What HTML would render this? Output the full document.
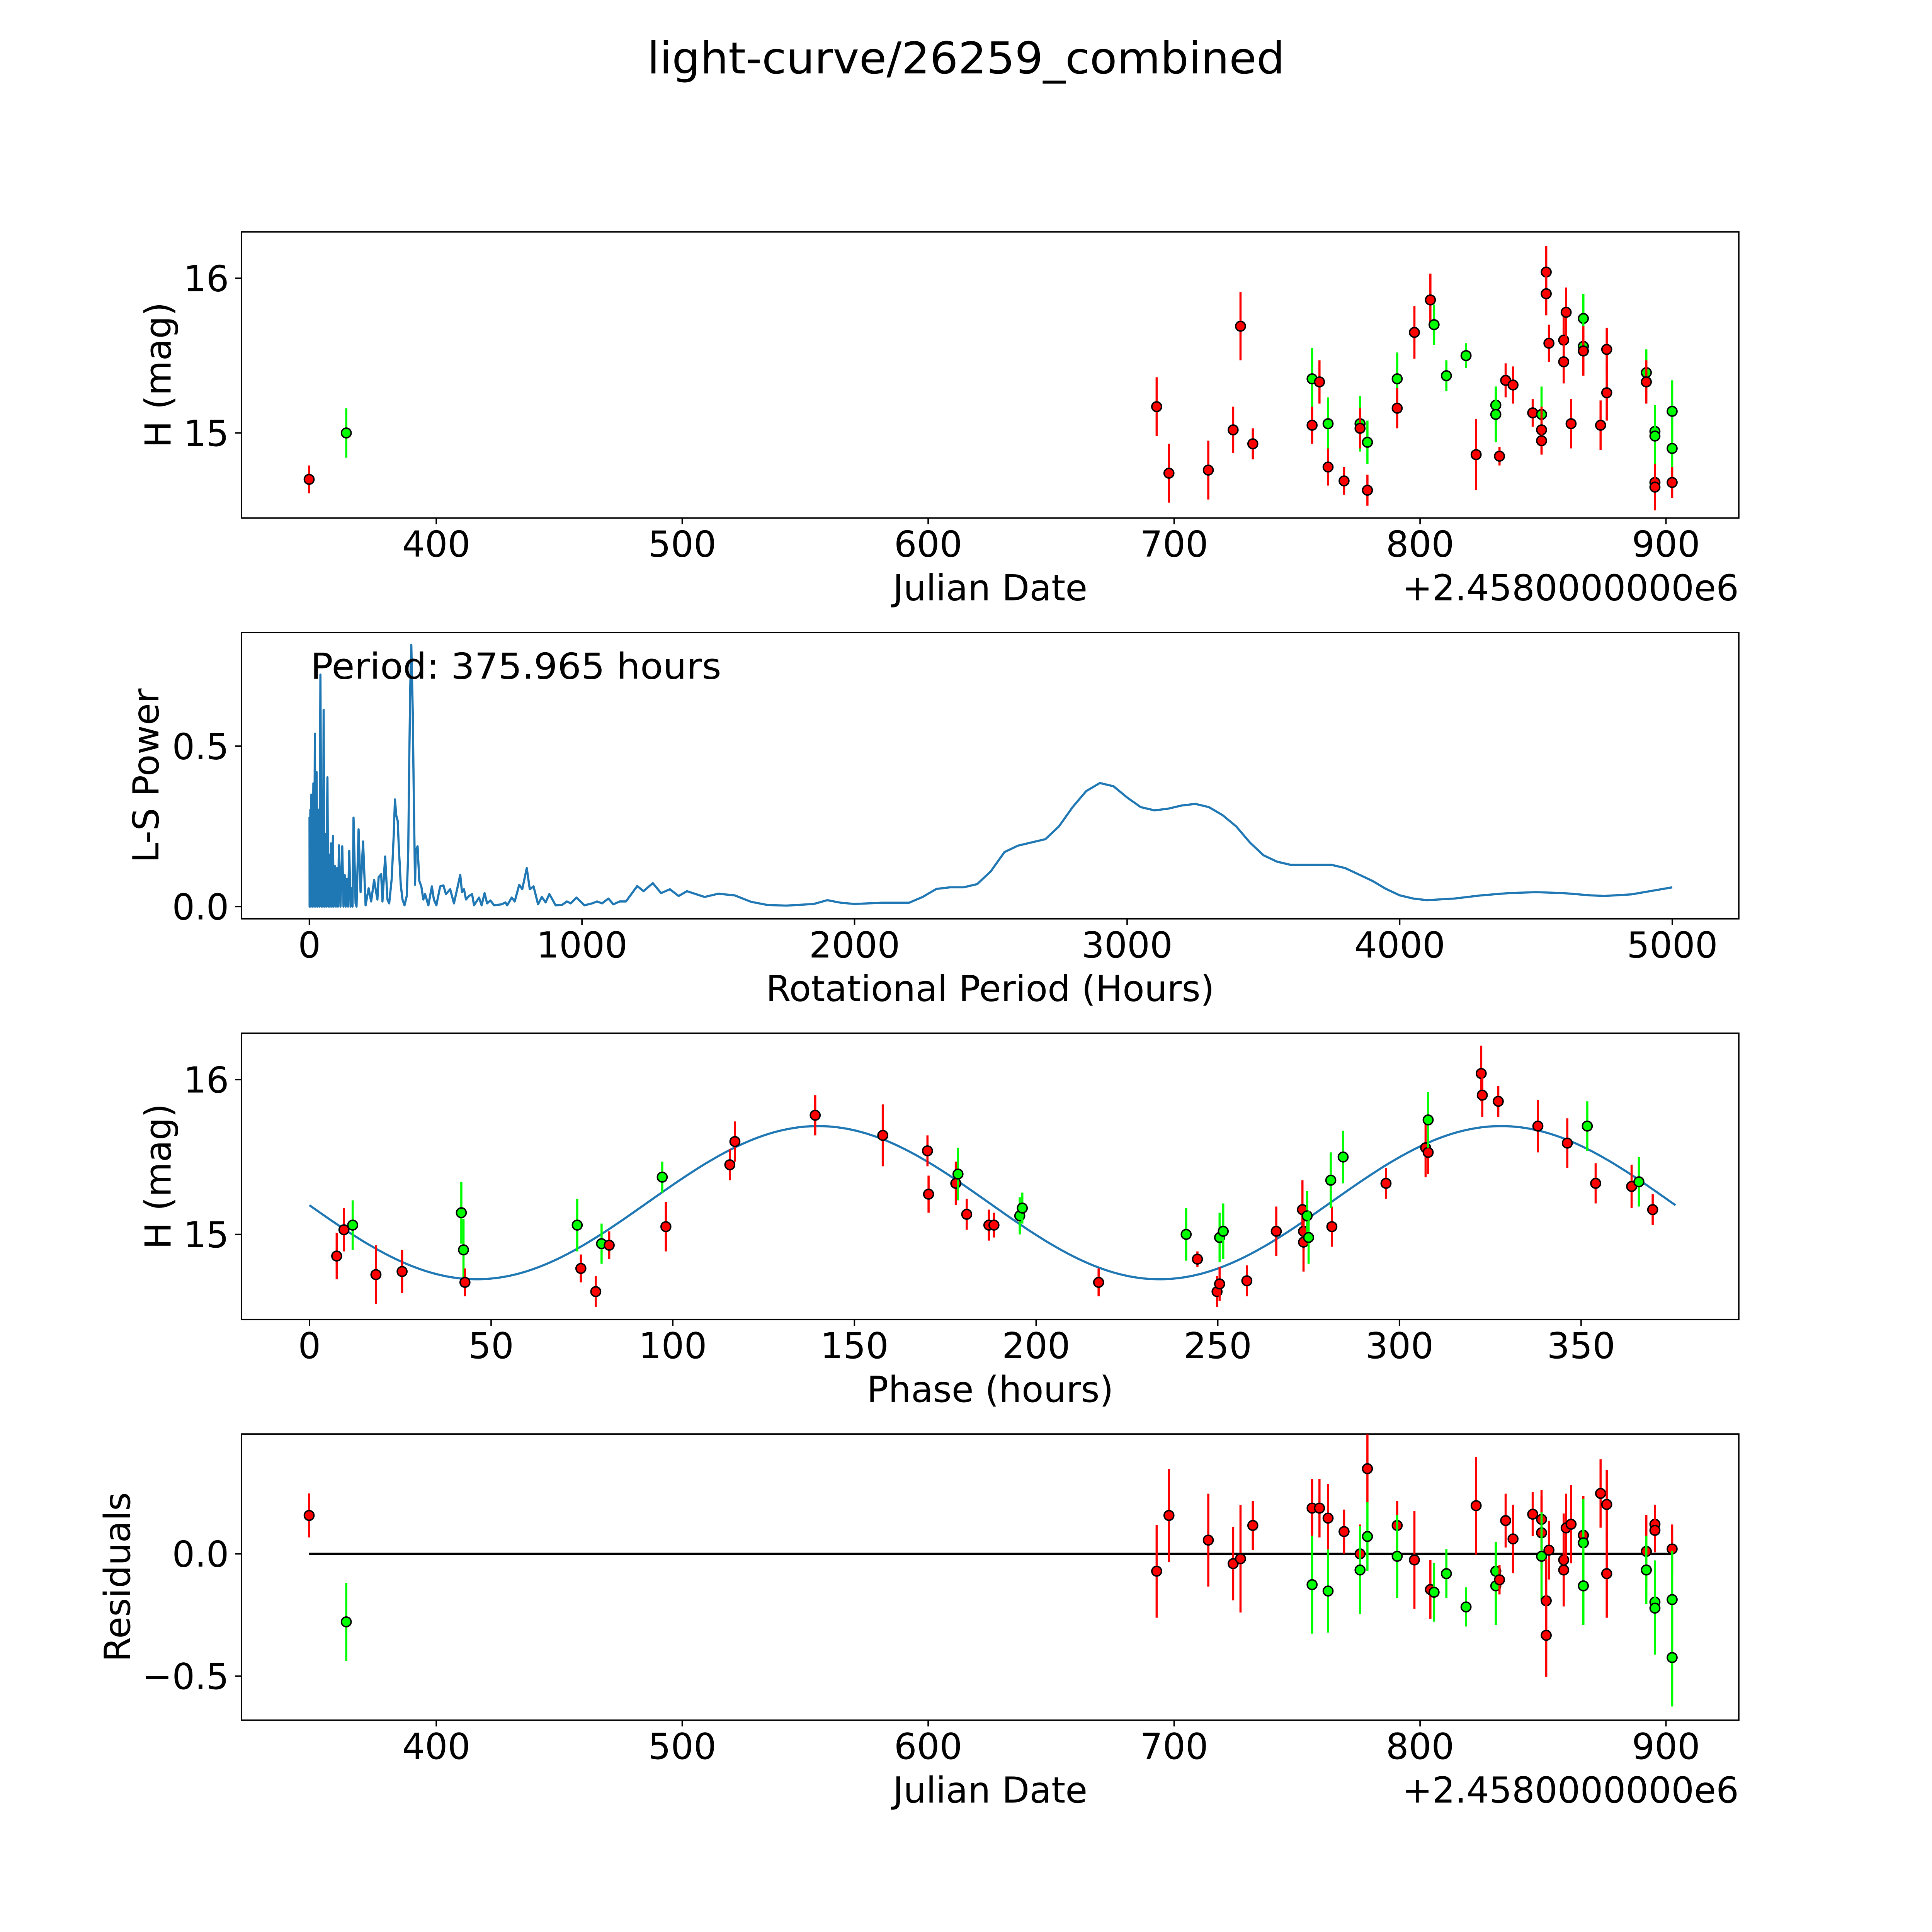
<!DOCTYPE html>
<html><head><meta charset="utf-8">
<style>
html,body{margin:0;padding:0;background:#fff;overflow:hidden;width:100vw;height:100vh;}
svg{display:block;width:100vw;height:100vh;font-family:"DejaVu Sans","Liberation Sans",sans-serif;}
</style></head>
<body>
<svg id="fig" viewBox="0 0 5400 5400" preserveAspectRatio="none" xmlns="http://www.w3.org/2000/svg">
<rect width="5400" height="5400" fill="#fff"/>
<text x="2700" y="205" font-size="122" text-anchor="middle" textLength="1782" lengthAdjust="spacingAndGlyphs">light-curve/26259_combined</text>
</svg>
<script>
// ---- Panel 1: light curve vs Julian date ----
const dates1 = [348.3,363.4,692.9,697.9,713.9,724.0,727.0,732.0,756.1,756.1,759.1,762.6,762.6,769.1,775.6,775.6,778.6,778.6,790.7,790.7,797.7,804.2,805.7,810.7,818.7,822.8,830.8,830.8,832.3,834.8,837.8,845.8,849.4,849.4,849.4,851.3,851.3,852.4,858.4,858.4,859.4,861.4,866.4,866.4,866.4,873.4,875.9,875.9,892.0,892.0,895.5,895.5,895.5,895.5,902.5,902.5,902.5];
const mags1 = [14.70,15.00,15.17,14.74,14.76,15.02,15.69,14.93,15.35,15.05,15.33,15.06,14.78,14.69,15.06,15.03,14.94,14.63,15.35,15.16,15.65,15.86,15.70,15.37,15.50,14.86,15.18,15.12,14.85,15.34,15.31,15.13,15.12,15.02,14.95,16.04,15.90,15.58,15.60,15.46,15.78,15.06,15.74,15.56,15.53,15.05,15.54,15.26,15.39,15.33,15.01,14.98,14.68,14.65,15.14,14.90,14.68];
const errs1 = [0.09,0.16,0.19,0.19,0.19,0.15,0.22,0.1,0.2,0.12,0.14,0.17,0.12,0.09,0.18,0.13,0.14,0.1,0.17,0.13,0.17,0.17,0.13,0.1,0.08,0.23,0.12,0.18,0.06,0.11,0.12,0.09,0.18,0.15,0.09,0.17,0.14,0.12,0.19,0.14,0.16,0.16,0.16,0.18,0.16,0.16,0.14,0.18,0.15,0.14,0.17,0.19,0.09,0.15,0.2,0.2,0.1];
const cols1 = ["r","g","r","r","r","r","r","r","g","r","r","g","r","r","g","r","g","r","g","r","r","r","g","g","g","r","g","g","r","r","r","r","g","r","r","r","r","r","r","r","r","r","g","g","r","r","r","r","g","r","g","g","r","r","g","g","r"];

// ---- Panel 2: periodogram ----
const periods2 = [0.5,0.9,3.6,5.5,7.3,11,14.7,17.4,20.2,23.9,26.7,30.3,33.1,36.8,40.5,44.2,46.9,49.7,52.4,55.2,58,61.7,66.3,69,71.8,75.5,79.2,82.8,86.5,89.3,93,97.6,102.2,105,108.6,114.1,120.6,125.2,129.8,133.5,137.2,141.8,146.4,151,154.7,158.4,162,169.4,173,180.5,187.8,197,206.2,217.3,226.5,237.6,249.5,254.1,263.4,268,278,286.4,292.8,302,309.4,314,318.6,324.1,327.8,335.2,341.6,349,357.3,362.8,366.5,370.2,373.9,379.4,383.1,387.7,390.4,396.9,403.3,410.7,418.1,424.5,436.5,449.4,456.8,466,479.8,491.8,501,516.6,530.4,544.3,553.5,559.9,567.3,574.6,585.7,596.8,604.1,622.5,631.8,642.8,652,664,677.8,705.4,719.2,725.7,742.3,753.3,769.9,781,797.5,808.6,822.4,839,852.8,866.6,880.4,903.4,926.5,944.9,958.7,979.9,1009.4,1037,1055.4,1073.8,1096.9,1115.3,1138.3,1161.3,1202.8,1225.8,1259.9,1290.3,1322.5,1354.7,1385,1450,1500,1560,1620,1680,1750,1850,1900,1950,2000,2100,2200,2250,2300,2350,2400,2450,2500,2550,2600,2650,2700,2750,2800,2850,2900,2950,3000,3050,3100,3150,3200,3250,3300,3350,3400,3450,3500,3550,3600,3700,3750,3800,3850,3900,3950,4000,4050,4100,4200,4300,4400,4500,4600,4700,4750,4850,5000];
const power2 = [0.279,0,0.302,0,0.349,0,0.384,0,0.539,0,0.419,0,0.302,0,0.723,0,0.360,0,0.613,0,0.226,0,0.403,0,0.162,0,0.197,0,0.220,0,0.127,0,0.121,0,0.191,0,0.188,0,0.098,0,0.086,0,0.174,0,0.057,0,0.277,0.010,0.0,0.241,0.045,0.203,0.004,0.057,0.016,0.083,0.022,0.092,0.101,0.016,0.156,0.022,0.010,0.086,0.220,0.334,0.285,0.267,0.191,0.068,0.022,0.004,0.033,0.174,0.460,0.688,0.816,0.597,0.337,0.068,0.174,0.188,0.080,0.063,0.022,0.039,0.004,0.063,0.022,0.004,0.063,0.066,0.039,0.054,0.010,0.063,0.099,0.045,0.054,0.022,0.033,0.039,0.004,0.028,0.004,0.042,0.010,0.019,0.004,0.007,0.013,0.004,0.028,0.016,0.068,0.054,0.120,0.054,0.063,0.007,0.030,0.013,0.039,0.004,0.005,0.016,0.010,0.028,0.004,0.010,0.016,0.010,0.025,0.007,0.016,0.016,0.064,0.048,0.073,0.042,0.054,0.033,0.048,0.030,0.040,0.035,0.015,0.005,0.003,0.008,0.020,0.012,0.008,0.012,0.012,0.030,0.055,0.060,0.060,0.070,0.110,0.170,0.190,0.200,0.210,0.250,0.310,0.360,0.385,0.375,0.340,0.310,0.300,0.305,0.315,0.320,0.310,0.285,0.250,0.200,0.160,0.140,0.130,0.130,0.130,0.120,0.100,0.080,0.055,0.035,0.025,0.020,0.025,0.035,0.042,0.045,0.042,0.035,0.033,0.038,0.060];

// ---- Panel 3: phase-folded ----
const phases3 = [7.5,9.5,11.9,18.3,25.5,41.8,42.4,42.8,73.7,74.7,78.8,80.4,82.5,97.1,98.1,115.7,117.1,139.2,157.8,170.1,170.4,177.9,178.5,180.9,187.0,188.4,195.5,196.2,217.2,241.3,244.4,249.8,250.5,250.5,251.5,258.0,266.1,273.3,273.6,273.6,274.6,275.0,281.4,281.1,284.5,296.3,307.2,307.9,307.9,322.5,322.8,327.2,338.1,346.2,351.7,354.0,363.9,365.9,369.7];
const mags3 = [14.86,15.03,15.06,14.74,14.76,15.14,14.90,14.69,15.06,14.78,14.63,14.94,14.93,15.37,15.05,15.45,15.60,15.77,15.64,15.54,15.26,15.33,15.39,15.13,15.06,15.06,15.12,15.17,14.69,15.00,14.84,14.63,14.68,14.98,15.02,14.70,15.02,15.16,15.02,14.95,15.12,14.98,15.05,15.35,15.50,15.33,15.56,15.53,15.74,16.04,15.90,15.86,15.70,15.59,15.70,15.33,15.31,15.34,15.16];
const errs3 = [0.15,0.14,0.16,0.19,0.14,0.2,0.2,0.09,0.17,0.09,0.1,0.13,0.09,0.1,0.16,0.1,0.13,0.13,0.2,0.1,0.12,0.14,0.17,0.1,0.1,0.08,0.12,0.1,0.09,0.17,0.05,0.1,0.11,0.16,0.18,0.1,0.16,0.19,0.12,0.19,0.16,0.17,0.13,0.18,0.17,0.1,0.19,0.14,0.18,0.18,0.14,0.1,0.17,0.16,0.16,0.13,0.14,0.16,0.1];
const cols3 = ["r","r","g","r","r","g","g","r","g","r","r","g","r","g","r","r","r","r","r","r","r","r","g","r","r","r","g","g","r","g","r","r","r","g","g","r","r","r","r","r","g","g","r","g","g","r","r","r","g","r","r","r","r","r","g","r","r","g","r"];
// fitted sinusoid parameters (period hours, mean mag, amplitude, phase offset)
const fitPeriod = 375.965, fitMean = 15.205, fitAmp = 0.495, fitPhase0 = 93;

// ---- Panel 4: residuals ----
const dates4 = [348.3,363.4,692.9,697.9,713.9,724.0,727.0,732.0,756.1,756.1,759.1,762.6,762.6,769.1,775.6,775.6,778.6,778.6,790.7,790.7,797.7,804.2,805.7,810.7,818.7,822.8,830.8,830.8,832.3,834.8,837.8,845.8,849.4,849.4,849.4,851.3,851.3,852.4,858.4,858.4,859.4,861.4,866.4,866.4,866.4,873.4,875.9,875.9,892.0,892.0,895.5,895.5,895.5,895.5,902.5,902.5,902.5];
const resid4 = [0.157,-0.278,-0.071,0.157,0.056,-0.040,-0.020,0.116,0.187,-0.126,0.187,0.146,-0.152,0.091,0.0,-0.066,0.348,0.071,0.116,-0.010,-0.025,-0.146,-0.157,-0.081,-0.217,0.197,-0.071,-0.131,-0.106,0.136,0.061,0.162,0.141,0.086,-0.010,-0.192,-0.333,0.015,-0.025,-0.066,0.106,0.121,0.076,0.045,-0.131,0.247,0.202,-0.081,0.010,-0.066,0.121,0.096,-0.197,-0.222,0.020,-0.187,-0.424];
const errs4 = [0.09,0.16,0.19,0.19,0.19,0.15,0.22,0.1,0.12,0.2,0.12,0.14,0.17,0.09,0.12,0.18,0.14,0.14,0.1,0.17,0.2,0.12,0.12,0.1,0.08,0.2,0.12,0.16,0.06,0.11,0.14,0.09,0.12,0.15,0.18,0.17,0.17,0.12,0.19,0.14,0.14,0.16,0.16,0.18,0.16,0.14,0.14,0.18,0.15,0.14,0.08,0.09,0.17,0.19,0.1,0.2,0.2];
const cols4 = ["r","g","r","r","r","r","r","r","r","g","r","r","g","r","r","g","r","g","r","g","r","r","g","g","g","r","g","g","r","r","r","r","r","r","g","r","r","r","r","r","r","r","r","g","g","r","r","r","r","g","r","r","g","g","r","g","g"];

// tick label arrays
const xticksDate = [400,500,600,700,800,900];
const xticksPer = [0,1000,2000,3000,4000,5000];
const xticksPhase = [0,50,100,150,200,250,300,350];
const yticksMag = [15,16];
const yticksPow = [0.0,0.5];
const yticksRes = [-0.5,0.0];

const NS = "http://www.w3.org/2000/svg";
const svg = document.getElementById('fig');
function mk(tag, attrs, parent){ const e=document.createElementNS(NS,tag); for(const k in attrs) e.setAttribute(k,attrs[k]); (parent||svg).appendChild(e); return e; }
const L=675, R=4860, H=800;
function lin(d0,d1,p0,p1){ return v => p0+(v-d0)/(d1-d0)*(p1-p0); }
function panel(name, top, xlim, ylim){
  const g=mk('g',{});
  
  
  return {g, top, bot:top+H, x:lin(xlim[0],xlim[1],L,R), y:lin(ylim[0],ylim[1],top+H,top)};
}
const FS=100;
function axes(p, xt, xfmt, yt, yfmt, xlabel, ylabel, ylabX, offset){
  const f=mk('rect',{x:L,y:p.top,width:R-L,height:H,fill:'none',stroke:'#000','stroke-width':4},p.g);
  
  
  xt.forEach(v=>{
    const X=p.x(v);
    const t=mk('line',{x1:X,x2:X,y1:p.bot,y2:p.bot+17.5,stroke:'#000','stroke-width':4},p.g);
    
    
    const tx=mk('text',{x:X,y:p.bot+108,'font-size':FS,'text-anchor':'middle'},p.g);
    tx.textContent=xfmt(v);
    
    
  });
  yt.forEach(v=>{
    const Y=p.y(v);
    const t=mk('line',{x1:L-17.5,x2:L,y1:Y,y2:Y,stroke:'#000','stroke-width':4},p.g);
    
    
    const tx=mk('text',{x:L-35,y:Y+36,'font-size':FS,'text-anchor':'end'},p.g);
    tx.textContent=yfmt(v);
    
    
  });
  const xl=mk('text',{x:(L+R)/2,y:p.bot+230,'font-size':FS,'text-anchor':'middle'},p.g);
  xl.textContent=xlabel;
  
  
  const cy=p.top+H/2;
  const yl=mk('text',{x:ylabX+36,y:cy,'font-size':FS,'text-anchor':'middle',transform:`rotate(-90 ${ylabX+36} ${cy})`},p.g);
  yl.textContent=ylabel;
  
  
  if(offset){
    const o=mk('text',{x:R,y:p.bot+230,'font-size':FS,'text-anchor':'end'},p.g);
    o.textContent=offset;
    
    
  }
}
const C={r:'#ff0000',g:'#00ff00'};
function points(p, xs, ys, es, cs){
  xs.forEach((xv,i)=>{
    const X=p.x(xv), col=C[cs[i]];
    const e=mk('line',{x1:X,x2:X,y1:p.y(ys[i]-es[i]),y2:p.y(ys[i]+es[i]),stroke:col,'stroke-width':6},p.g);
    
    
    const c=mk('circle',{cx:X,cy:p.y(ys[i]),r:13.5,fill:col,stroke:'#000','stroke-width':4},p.g);
    
    
  });
}
const minus = v => (v<0?'\u2212':'')+Math.abs(v).toFixed(1);

// Panel 1
const p1=panel('light-curve-panel',648,[320.8,929.6],[14.45,16.30]);
axes(p1,xticksDate,v=>String(v),yticksMag,v=>String(v),'Julian Date','H (mag)',441,'+2.4580000000e6');
points(p1,dates1,mags1,errs1,cols1);

// Panel 2
const p2=panel('periodogram-panel',1768,[-249,5244],[-0.038,0.854]);
axes(p2,xticksPer,v=>String(v),yticksPow,v=>v.toFixed(1),'Rotational Period (Hours)','L-S Power',407,null);
const pl=mk('polyline',{points:periods2.map((v,i)=>p2.x(v).toFixed(1)+','+p2.y(power2[i]).toFixed(1)).join(' '),fill:'none',stroke:'#1f77b4','stroke-width':6,'stroke-linejoin':'round'},p2.g);


const pt=mk('text',{x:868,y:1897,'font-size':100,textLength:1148,lengthAdjust:'spacingAndGlyphs'},p2.g);
pt.textContent='Period: 375.965 hours';



// Panel 3
const p3=panel('phase-folded-panel',2888,[-18.7,393.4],[14.45,16.30]);
axes(p3,xticksPhase,v=>String(v),yticksMag,v=>String(v),'Phase (hours)','H (mag)',441,null);
const fitPts=[];
for(let i=0;i<=300;i++){ const ph=fitPeriod*i/300; fitPts.push(p3.x(ph).toFixed(1)+','+p3.y(fitMean+fitAmp*Math.sin(4*Math.PI*(ph-fitPhase0)/fitPeriod)).toFixed(1)); }
const fl=mk('polyline',{points:fitPts.join(' '),fill:'none',stroke:'#1f77b4','stroke-width':6},p3.g);


points(p3,phases3,mags3,errs3,cols3);

// Panel 4
const p4=panel('residuals-panel',4008,[320.8,929.6],[-0.68,0.49]);
axes(p4,xticksDate,v=>String(v),yticksRes,minus,'Julian Date','Residuals',327,'+2.4580000000e6');
const zl=mk('line',{x1:p4.x(348.3),x2:p4.x(902.5),y1:p4.y(0),y2:p4.y(0),stroke:'#000','stroke-width':6},p4.g);


points(p4,dates4,resid4,errs4,cols4);
</script>
</body></html>
